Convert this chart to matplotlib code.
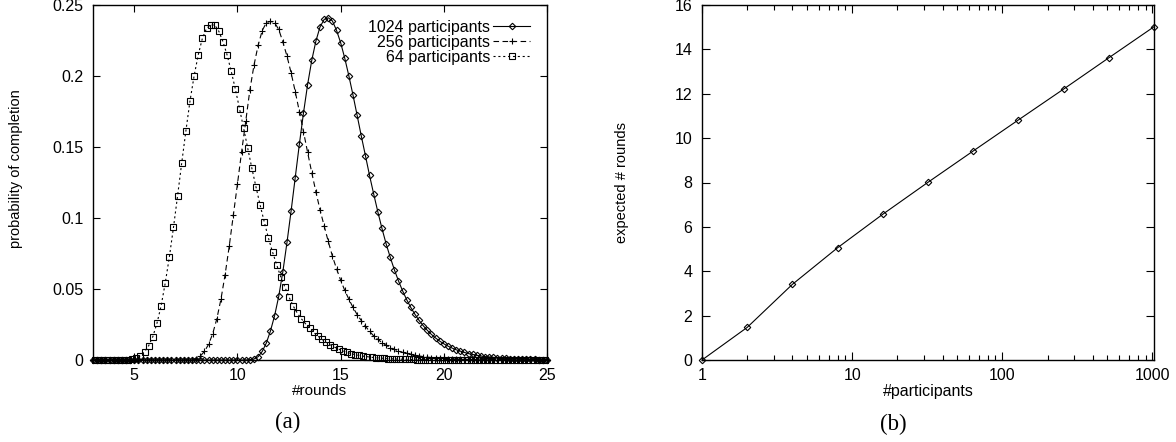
import numpy as np
import matplotlib
matplotlib.use('Agg')
import matplotlib.pyplot as plt
from matplotlib.ticker import FormatStrFormatter, LogLocator, NullFormatter

plt.rcParams['font.family'] = ['Liberation Sans', 'DejaVu Sans']
plt.rcParams['font.size'] = 11.5
plt.rcParams['lines.scale_dashes'] = False

# x grids (rounds) of the three curves in panel (a)
rounds_even = np.round(np.arange(3.0, 25.01, 0.2), 1)
rounds_odd = np.round(np.arange(3.1, 24.91, 0.2), 1)

# probability of completion, 1024 participants (x = 3.0 .. 25.0)
p1024 = [
    0, 0, 0, 0, 0, 0, 0, 0, 0, 0,
    0, 0, 0, 0, 0, 0, 0, 0, 0, 0,
    0, 0, 0, 0, 0, 0, 0, 0, 0, 0,
    0, 0, 0, 0, 0, 0, 0, 0, 0.0002, 0.0007,
    0.0023, 0.0060, 0.0120, 0.0205, 0.0312, 0.0448, 0.0622, 0.0828, 0.1050, 0.1285,
    0.1520, 0.1740, 0.1940, 0.2110, 0.2245, 0.2345, 0.2398, 0.2410, 0.2388, 0.2322,
    0.2235, 0.2125, 0.2000, 0.1865, 0.1722, 0.1578, 0.1440, 0.1300, 0.1170, 0.1045,
    0.0928, 0.0820, 0.0725, 0.0637, 0.0558, 0.0488, 0.0425, 0.0370, 0.0322, 0.0279,
    0.0242, 0.0209, 0.0180, 0.0155, 0.0133, 0.0114, 0.0098, 0.0084, 0.0072, 0.0062,
    0.0053, 0.0045, 0.0039, 0.0033, 0.0028, 0.0024, 0.0021, 0.0018, 0.0015, 0.0013,
    0.0011, 0.0009, 0.0008, 0.0007, 0.0006, 0.0005, 0.0004, 0.0004, 0.0003, 0.0003,
    0.0002,
]

# 256 participants (x = 3.0 .. 25.0)
p256 = [
    0, 0, 0, 0, 0, 0, 0, 0, 0, 0,
    0, 0, 0, 0, 0, 0, 0, 0, 0, 0,
    0, 0, 0, 0.0001, 0.0003, 0.0010, 0.0028, 0.0060, 0.0110, 0.0185,
    0.0290, 0.0428, 0.0600, 0.0800, 0.1020, 0.1240, 0.1465, 0.1680, 0.1900, 0.2075,
    0.2215, 0.2320, 0.2375, 0.2385, 0.2375, 0.2328, 0.2240, 0.2140, 0.2022, 0.1890,
    0.1750, 0.1608, 0.1462, 0.1320, 0.1185, 0.1058, 0.0945, 0.0835, 0.0732, 0.0643,
    0.0562, 0.0490, 0.0428, 0.0370, 0.0320, 0.0278, 0.0238, 0.0202, 0.0170, 0.0145,
    0.0123, 0.0104, 0.0088, 0.0075, 0.0064, 0.0054, 0.0046, 0.0039, 0.0033, 0.0028,
    0.0024, 0.0020, 0.0017, 0.0015, 0.0013, 0.0011, 0.0009, 0.0008, 0.0007, 0.0006,
    0.0005, 0.0004, 0.0004, 0.0003, 0.0003, 0.0002, 0.0002, 0.0002, 0.0002, 0.0001,
    0.0001, 0.0001, 0.0001, 0.0001, 0, 0, 0, 0, 0, 0,
    0,
]

# 64 participants (x = 3.1 .. 24.9)
p64 = [
    0, 0, 0, 0, 0, 0, 0, 0.0001, 0.0002, 0.0006,
    0.0015, 0.0031, 0.0059, 0.0101, 0.0165, 0.0259, 0.0381, 0.0542, 0.0725, 0.0934,
    0.1158, 0.1389, 0.1612, 0.1824, 0.2001, 0.2149, 0.2265, 0.2335, 0.2359, 0.2359,
    0.2314, 0.2241, 0.2147, 0.2032, 0.1907, 0.1770, 0.1631, 0.1490, 0.1349, 0.1217,
    0.1090, 0.0972, 0.0859, 0.0760, 0.0671, 0.0584, 0.0513, 0.0443, 0.0381, 0.0330,
    0.0290, 0.0255, 0.0222, 0.0194, 0.0168, 0.0145, 0.0125, 0.0107, 0.0091, 0.0077,
    0.0065, 0.0054, 0.0045, 0.0038, 0.0032, 0.0027, 0.0023, 0.0019, 0.0016, 0.0014,
    0.0012, 0.0010, 0.0008, 0.0007, 0.0006, 0.0005, 0.0004, 0.0004, 0.0003, 0.0003,
    0.0002, 0.0002, 0.0002, 0.0002, 0.0002, 0.0001, 0.0001, 0.0001, 0.0001, 0.0001,
    0.0001, 0.0001, 0.0001, 0.0001, 0.0001, 0, 0, 0, 0, 0,
    0, 0, 0, 0, 0, 0, 0, 0, 0, 0,
]

# panel (b)
participants = [1, 2, 4, 8, 16, 32, 64, 128, 256, 512, 1024]
expected_rounds = [0, 1.47, 3.41, 5.06, 6.57, 8.01, 9.42, 10.82, 12.21, 13.62, 15.02]

fig = plt.figure(figsize=(11.76, 4.42), dpi=100)
ax1 = fig.add_axes([93 / 1176, 82 / 442, 454 / 1176, 355 / 442])
ax2 = fig.add_axes([702 / 1176, 82 / 442, 452 / 1176, 355 / 442])

style = dict(color='k', lw=0.8, markerfacecolor='none', markeredgecolor='k',
             markeredgewidth=0.8, clip_on=False)

ax1.plot(rounds_even, p1024, marker='D', ms=3.3, ls='-',
         label='1024 participants', **style)
ax1.plot(rounds_even, p256, marker='+', ms=5, ls=(0, (4, 2.5)),
         label='256 participants', **style)
ax1.plot(rounds_odd, p64, marker='s', ms=4.5, ls=(0, (1.5, 2)),
         label='64 participants', **style)

ax1.set_xlim(3, 25)
ax1.set_ylim(0, 0.25)
ax1.set_xticks([5, 10, 15, 20, 25])
ax1.set_yticks([0, 0.05, 0.1, 0.15, 0.2, 0.25])
ax1.yaxis.set_major_formatter(FormatStrFormatter('%g'))
ax1.tick_params(direction='in', top=True, right=True, length=5, width=0.8)
ax1.tick_params(axis='x', pad=6)
ax1.tick_params(axis='y', pad=7)
ax1.set_xlabel('#rounds', fontsize=11)
ax1.xaxis.set_label_coords(0.5, -0.068)
ax1.set_ylabel('probability of completion', fontsize=10.5)
ax1.yaxis.set_label_coords(-0.154, 0.54)

leg = ax1.legend(loc='upper right', bbox_to_anchor=(0.9626, 0.958), markerfirst=False,
                 frameon=False, borderpad=0, borderaxespad=0, handlelength=2.3,
                 handletextpad=0.2, labelspacing=0.0, numpoints=1, fontsize=11.5)

ax2.plot(participants, expected_rounds, marker='D', ms=3.3, ls='-', **style)
ax2.set_xscale('log')
ax2.set_xlim(1, 1024)
ax2.set_ylim(0, 16)
ax2.set_xticks([1, 10, 100, 1000])
ax2.set_xticklabels(['1', '10', '100', '1000'])
ax2.xaxis.set_minor_locator(LogLocator(base=10, subs=range(2, 10)))
ax2.xaxis.set_minor_formatter(NullFormatter())
ax2.set_yticks(range(0, 17, 2))
ax2.tick_params(which='major', direction='in', top=True, right=True, length=6, width=0.8)
ax2.tick_params(which='minor', direction='in', top=True, right=True, length=3.5, width=0.8)
ax2.tick_params(axis='x', which='major', pad=6)
ax2.tick_params(axis='y', which='major', pad=7)
ax2.set_xlabel('#participants', fontsize=11.5)
ax2.xaxis.set_label_coords(0.5, -0.068)
ax2.set_ylabel('expected # rounds', fontsize=10.5)
ax2.yaxis.set_label_coords(-0.161, 0.5)

for ax in (ax1, ax2):
    for sp in ax.spines.values():
        sp.set_linewidth(1.0)

fig.text(288 / 1176, 1 - 422 / 442, '(a)', ha='center', va='center',
         family='Liberation Serif', size=16.5)
fig.text(893 / 1176, 1 - 424 / 442, '(b)', ha='center', va='center',
         family='Liberation Serif', size=16.5)

fig.savefig('out.png', dpi=100)
